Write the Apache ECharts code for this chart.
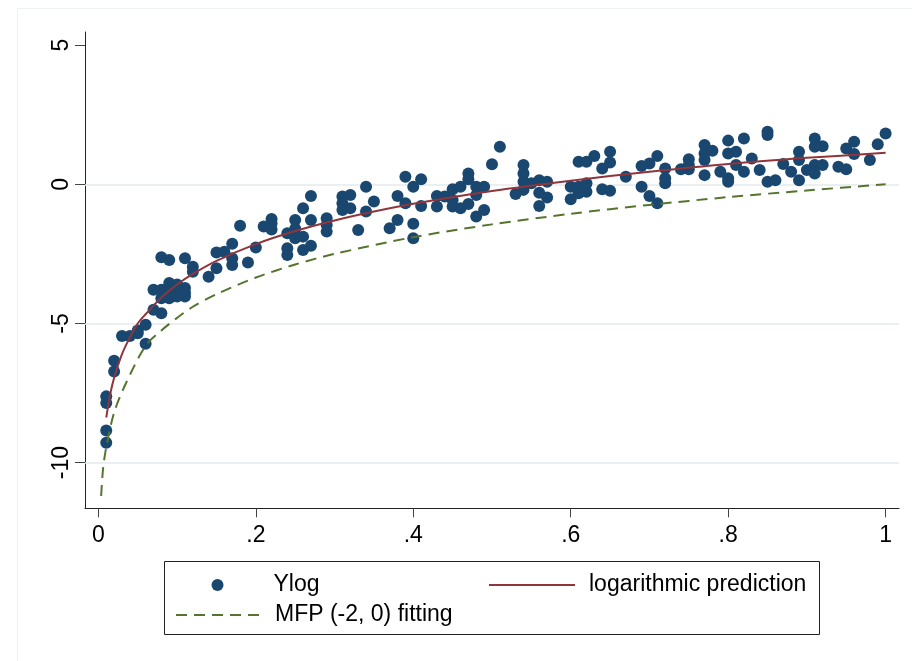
<!DOCTYPE html>
<html>
<head>
<meta charset="utf-8">
<script src="https://cdn.jsdelivr.net/npm/echarts@6/dist/echarts.min.js"></script>
<style>
  html, body { margin: 0; padding: 0; background: #fff; }
  #chart { width: 912px; height: 661px; }
</style>
</head>
<body>
<div id="chart"></div>
<script>
// observed points (x, Ylog)
var pointX = [
  0.01, 0.01, 0.01, 0.01, 0.02, 0.02, 0.03, 0.04, 0.05, 0.05,
  0.06, 0.06, 0.07, 0.08, 0.07, 0.08, 0.09, 0.09, 0.10, 0.11,
  0.11, 0.08, 0.10, 0.09, 0.10, 0.11, 0.08, 0.09, 0.11, 0.12,
  0.12, 0.14, 0.15, 0.15, 0.16, 0.17, 0.17, 0.17, 0.18, 0.19,
  0.20, 0.21, 0.22, 0.22, 0.22, 0.24, 0.24, 0.24, 0.25, 0.25,
  0.25, 0.26, 0.26, 0.26, 0.27, 0.27, 0.27, 0.29, 0.29, 0.29,
  0.31, 0.31, 0.31, 0.32, 0.32, 0.33, 0.34, 0.34, 0.35, 0.37,
  0.38, 0.38, 0.39, 0.39, 0.40, 0.40, 0.40, 0.41, 0.41, 0.43,
  0.43, 0.44, 0.45, 0.45, 0.45, 0.46, 0.46, 0.47, 0.47, 0.47,
  0.48, 0.48, 0.48, 0.49, 0.49, 0.50, 0.51, 0.53, 0.54, 0.54,
  0.54, 0.54, 0.55, 0.56, 0.56, 0.56, 0.57, 0.57, 0.60, 0.60,
  0.61, 0.61, 0.61, 0.62, 0.62, 0.62, 0.63, 0.64, 0.64, 0.65,
  0.65, 0.65, 0.67, 0.69, 0.69, 0.70, 0.70, 0.71, 0.71, 0.72,
  0.72, 0.72, 0.74, 0.75, 0.75, 0.75, 0.77, 0.77, 0.77, 0.77,
  0.78, 0.79, 0.80, 0.80, 0.80, 0.80, 0.81, 0.81, 0.82, 0.82,
  0.83, 0.84, 0.85, 0.85, 0.85, 0.86, 0.87, 0.88, 0.89, 0.89,
  0.89, 0.90, 0.91, 0.91, 0.91, 0.91, 0.92, 0.92, 0.94, 0.95,
  0.95, 0.96, 0.96, 0.98, 0.99, 1.00
];
var pointY = [
  -7.62, -7.86, -8.85, -9.29, -6.34, -6.73, -5.45, -5.45, -5.25, -5.35,
  -5.05, -5.73, -4.51, -4.63, -3.79, -3.79, -3.55, -4.09, -3.79, -3.73,
  -4.03, -4.09, -4.03, -3.85, -3.6, -3.9, -2.62, -2.72, -2.66, -2.96,
  -3.14, -3.32, -3.02, -2.45, -2.42, -2.14, -2.66, -2.9, -1.49, -2.81,
  -2.27, -1.52, -1.25, -1.62, -1.4, -1.76, -2.3, -2.54, -1.28, -1.94,
  -1.6, -0.86, -1.88, -2.36, -0.42, -1.28, -2.21, -1.22, -1.46, -1.7,
  -0.44, -0.68, -0.92, -0.38, -0.86, -1.64, -0.09, -0.98, -0.62, -1.58,
  -0.42, -1.28, 0.27, -0.68, -0.09, -1.42, -1.94, 0.18, -0.78, -0.42,
  -0.8, -0.44, -0.18, -0.56, -0.8, -0.09, -0.86, 0.39, 0.18, -0.71,
  -0.09, -0.38, -1.16, -0.09, -0.92, 0.72, 1.35, -0.35, 0.69, 0.39,
  0.09, -0.2, 0.04, 0.15, -0.3, -0.78, 0.09, -0.47, -0.09, -0.54,
  0.81, -0.09, -0.32, 0.81, 0.04, -0.27, 1.02, 0.57, -0.18, 1.17,
  0.78, -0.23, 0.27, 0.66, -0.09, 0.75, -0.42, 1.02, -0.68, 0.57,
  0.22, 0.04, 0.54, 0.9, 0.54, 0.69, 1.41, 1.11, 0.87, 0.33,
  1.21, 0.45, 1.57, 1.11, 0.22, 0.09, 1.17, 0.69, 1.65, 0.45,
  0.93, 0.51, 1.89, 1.77, 0.09, 0.15, 0.73, 0.45, 1.17, 0.87,
  0.15, 0.51, 1.65, 1.35, 0.69, 0.39, 1.37, 0.69, 0.63, 1.29,
  0.54, 1.53, 1.09, 0.87, 1.44, 1.83
];

// logarithmic prediction (solid red)
var logX = [0.01, 0.015, 0.02, 0.03, 0.04, 0.05, 0.06, 0.08, 0.1, 0.12, 0.15,
  0.2, 0.25, 0.3, 0.35, 0.4, 0.5, 0.6, 0.7, 0.8, 0.9, 1.0];
var logY = [-8.38, -7.55, -6.95, -6.1, -5.5, -5.0, -4.67, -4.07, -3.6, -3.22, -2.75,
  -2.15, -1.68, -1.3, -0.98, -0.7, -0.24, 0.13, 0.45, 0.73, 0.95, 1.13];

// MFP (-2, 0) fitting (dashed green)
var mfpX = [0.0035, 0.006, 0.01, 0.02, 0.035, 0.06, 0.08, 0.1, 0.12, 0.15,
  0.2, 0.25, 0.3, 0.4, 0.5, 0.6, 0.7, 0.8, 0.9, 1.0];
var mfpY = [-11.2, -10.2, -9.45, -8.2, -7.15, -5.8, -5.25, -4.8, -4.4, -3.95,
  -3.35, -2.88, -2.5, -1.9, -1.44, -1.06, -0.74, -0.46, -0.22, 0.0];

var xTicks = [0, 0.2, 0.4, 0.6, 0.8, 1];
var yTicks = [-10, -5, 0, 5];
var gridAt = [-10, -5, 0];

function pairs(xs, ys) {
  return xs.map(function (x, i) { return [x, ys[i]]; });
}

var font = '"Liberation Sans", Arial, Helvetica, sans-serif';
var legendText = { fontSize: 23, color: '#000', fontFamily: font, lineHeight: 26 };
var chart = echarts.init(document.getElementById('chart'), null, { renderer: 'canvas' });

chart.setOption({
  backgroundColor: '#ffffff',
  animation: false,
  textStyle: { fontFamily: font },
  grid: { left: 85, right: 13, top: 32, bottom: 152.7 },
  xAxis: {
    type: 'value',
    min: -0.017,
    max: 1.017,
    axisLine: { onZero: false, lineStyle: { color: '#222', width: 1 } },
    axisTick: { customValues: xTicks, length: 9, lineStyle: { color: '#444' } },
    axisLabel: {
      customValues: xTicks,
      margin: 16,
      fontSize: 23,
      color: '#000',
      fontFamily: font,
      formatter: function (v) {
        if (v === 0) return '0';
        if (v === 1) return '1';
        return String(+v.toFixed(1)).replace(/^0/, '');
      }
    },
    splitLine: { show: false }
  },
  yAxis: {
    type: 'value',
    min: -11.642,
    max: 5.473,
    axisLine: { show: true, onZero: false, lineStyle: { color: '#222', width: 1 } },
    axisTick: { show: true, customValues: yTicks, length: 10, lineStyle: { color: '#444' } },
    axisLabel: {
      customValues: yTicks,
      rotate: 90,
      margin: 12,
      fontSize: 23,
      color: '#000',
      fontFamily: font
    },
    splitLine: { show: false }
  },
  legend: [
    {
      left: 211.5, top: 572, padding: 0,
      itemWidth: 12, itemHeight: 12,
      data: ['Ylog'],
      textStyle: Object.assign({ padding: [0, 0, 0, 45] }, legendText)
    },
    {
      left: 488, top: 572, padding: 0,
      itemWidth: 86, itemHeight: 12,
      data: [{ name: 'logarithmic prediction', itemStyle: { opacity: 0 } }],
      textStyle: Object.assign({ padding: [0, 0, 0, 9] }, legendText)
    },
    {
      left: 175, top: 602, padding: 0,
      itemWidth: 84, itemHeight: 12,
      data: [{ name: 'MFP (-2, 0) fitting', itemStyle: { opacity: 0 } }],
      textStyle: Object.assign({ padding: [0, 0, 0, 10] }, legendText)
    }
  ],
  graphic: [
    { type: 'rect', shape: { x: 17.5, y: 8.5, width: 1000, height: 1000 }, style: { fill: 'none', stroke: '#eef1f3', lineWidth: 1 }, silent: true },
    { type: 'rect', shape: { x: 164.5, y: 561.5, width: 655, height: 73 }, style: { fill: 'none', stroke: '#222', lineWidth: 1 }, silent: true }
  ],
  series: [
    {
      name: 'Ylog',
      type: 'scatter',
      symbol: 'circle',
      symbolSize: 12,
      itemStyle: { color: '#1a476f', opacity: 1 },
      data: pairs(pointX, pointY),
      z: 2,
      markLine: {
        silent: true,
        symbol: 'none',
        label: { show: false },
        lineStyle: { color: '#e3ebee', width: 1.5, type: 'solid' },
        data: gridAt.map(function (v) { return { yAxis: v }; }),
        z: 1
      }
    },
    {
      name: 'logarithmic prediction',
      type: 'line',
      showSymbol: false,
      symbol: 'none',
      smooth: 0.3,
      lineStyle: { color: '#90353b', width: 2 },
      itemStyle: { color: '#90353b' },
      data: pairs(logX, logY),
      z: 3
    },
    {
      name: 'MFP (-2, 0) fitting',
      type: 'line',
      showSymbol: false,
      symbol: 'none',
      smooth: 0.3,
      lineStyle: { color: '#55752f', width: 2, type: [11, 7] },
      itemStyle: { color: '#55752f' },
      data: pairs(mfpX, mfpY),
      z: 3
    }
  ]
});
</script>
</body>
</html>
